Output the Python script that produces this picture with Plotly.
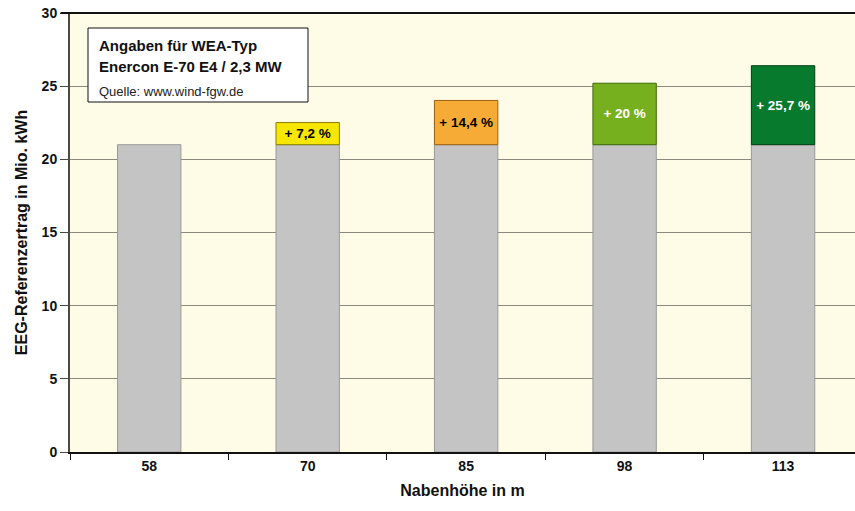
import plotly.graph_objects as go

# Hub heights (m) and the annual reference yield of the 58 m base case
hub_heights = ["58", "70", "85", "98", "113"]
base_yield = [21, 21, 21, 21, 21]          # Mio. kWh
gain_pct = [0, 7.2, 14.4, 20, 25.7]       # additional yield vs. 58 m, in %
gain_colors = ["#c4c4c4", "#f7e600", "#f5ab36", "#77b01f", "#087a2d"]
gain_edges = ["#555555", "#8a7d00", "#9a6010", "#3d6a0a", "#023d14"]
label_colors = ["#000000", "#000000", "#000000", "#ffffff", "#ffffff"]

y_ticks = [0, 5, 10, 15, 20, 25, 30]

gain_abs = [b * p / 100 for b, p in zip(base_yield, gain_pct)]
gain_text = ["" if p == 0 else "+ " + f"{p:g}".replace(".", ",") + " %" for p in gain_pct]

font_family = "Liberation Sans, Arial, sans-serif"

fig = go.Figure()

# Base yield (grey columns)
fig.add_trace(go.Bar(
    x=hub_heights, y=base_yield, width=0.4,
    marker=dict(color="#c4c4c4", line=dict(color="#9a9a9a", width=1)),
    hoverinfo="skip", showlegend=False,
))

# Additional yield stacked on top of the base
idx = [i for i, p in enumerate(gain_pct) if p > 0]
fig.add_trace(go.Bar(
    x=[hub_heights[i] for i in idx],
    y=[gain_abs[i] for i in idx],
    base=[base_yield[i] for i in idx],
    width=0.4,
    marker=dict(color=[gain_colors[i] for i in idx],
                line=dict(color=[gain_edges[i] for i in idx], width=1)),
    text=[gain_text[i] for i in idx],
    textposition="inside", insidetextanchor="middle",
    textfont=dict(family=font_family, size=13.5, weight="bold",
                  color=[label_colors[i] for i in idx]),
    textangle=0, cliponaxis=False,
    hoverinfo="skip", showlegend=False,
))

fig.update_layout(
    width=855, height=511,
    margin=dict(l=70, r=0, t=13, b=59),
    paper_bgcolor="#ffffff",
    plot_bgcolor="#fefbe6",
    barmode="overlay",
    font=dict(family=font_family, color="#111111"),
    uniformtext=dict(mode=False),
    xaxis=dict(
        type="category", range=[-0.5, 4.454],
        showline=True, linecolor="#111111", linewidth=2,
        ticks="outside", tickson="boundaries", ticklen=6, tickcolor="#111111",
        tickfont=dict(size=14, family=font_family, weight="bold"),
        showgrid=False,
        title=dict(text="<b>Nabenhöhe in m</b>", font=dict(size=16), standoff=12),
    ),
    yaxis=dict(
        range=[0, 30], tickvals=y_ticks,
        showline=True, linecolor="#4a4a42", linewidth=2,
        ticks="outside", ticklen=8, tickcolor="#4a4a42",
        tickfont=dict(size=14, family=font_family, weight="bold"),
        showgrid=True, gridcolor="#8a8a7e", gridwidth=1,
        zeroline=False,
        title=dict(text="<b>EEG-Referenzertrag in Mio. kWh</b>", font=dict(size=16), standoff=10),
    ),
    shapes=[
        # top frame line
        dict(type="line", xref="paper", yref="paper", x0=-0.012, x1=1, y0=1, y1=1,
             line=dict(color="#111111", width=2)),
        # info box
        dict(type="rect", xref="paper", yref="paper",
             x0=(88 - 70) / 785, x1=(308 - 70) / 785,
             y0=(452 - 102) / 439, y1=(452 - 28) / 439,
             fillcolor="#ffffff", line=dict(color="#111111", width=1), layer="above"),
    ],
    annotations=[
        dict(text="<b>Angaben für WEA-Typ</b>", xref="paper", yref="paper",
             x=(97 - 70) / 785, y=(452 - 45) / 439, xanchor="left", yanchor="middle",
             showarrow=False, font=dict(size=15, color="#111111")),
        dict(text="<b>Enercon E-70 E4 / 2,3 MW</b>", xref="paper", yref="paper",
             x=(97 - 70) / 785, y=(452 - 66) / 439, xanchor="left", yanchor="middle",
             showarrow=False, font=dict(size=15, color="#111111")),
        dict(text="Quelle: www.wind-fgw.de", xref="paper", yref="paper",
             x=(97 - 70) / 785, y=(452 - 91) / 439, xanchor="left", yanchor="middle",
             showarrow=False, font=dict(size=13, color="#222222")),
    ],
)

fig.write_html("out.html")
